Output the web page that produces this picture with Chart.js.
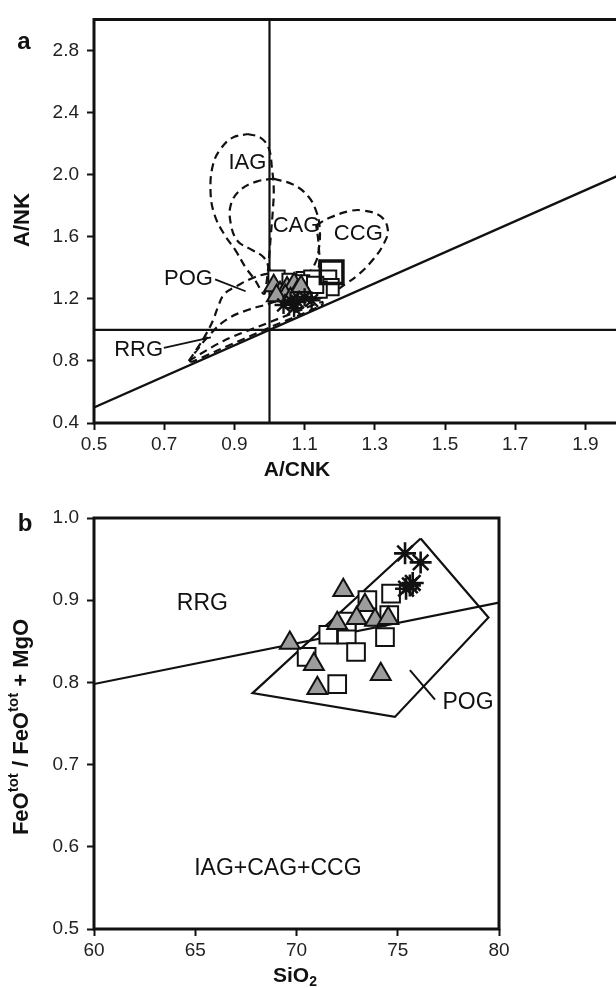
<!DOCTYPE html>
<html>
<head>
<meta charset="utf-8">
<script src="https://cdn.jsdelivr.net/npm/chart.js@4.4.1/dist/chart.umd.min.js"></script>
<style>
  html, body { margin: 0; padding: 0; background: #fff; overflow: hidden; width: 616px; height: 988px; }
  #chartA { position: absolute; left: 0; top: 0; }
  #chartB { position: absolute; left: 0; top: 494px; }
</style>
</head>
<body>
<canvas id="chartA" width="640" height="494"></canvas>
<canvas id="chartB" width="616" height="494"></canvas>
<script>
// ---------- (a) A/CNK vs A/NK ----------
const aTicksX = [0.5, 0.7, 0.9, 1.1, 1.3, 1.5, 1.7, 1.9];
const aTicksY = [0.4, 0.8, 1.2, 1.6, 2.0, 2.4, 2.8];

const aTriangleACNK = [1.012, 1.03, 1.05, 1.07, 1.045, 1.08, 1.10, 1.06, 1.02, 1.09];
const aTriangleANK  = [1.285, 1.24, 1.27, 1.295, 1.22, 1.25, 1.23, 1.20, 1.22, 1.28];
const aSquareACNK   = [1.02, 1.06, 1.10, 1.122, 1.167, 1.174, 1.14, 1.09, 1.13];
const aSquareANK    = [1.33, 1.31, 1.32, 1.33, 1.33, 1.275, 1.26, 1.30, 1.29];
const aBigSquareACNK = [1.177];
const aBigSquareANK  = [1.371];
const aStarACNK     = [1.04, 1.06, 1.08, 1.10, 1.07, 1.12];
const aStarANK      = [1.16, 1.19, 1.18, 1.21, 1.14, 1.19];

// reference lines: A/CNK = 1, A/NK = 1, A/NK = A/CNK
const acnkOneLine = [[1.0, 0.4], [1.0, 3.0]];
const ankOneLine  = [[0.5, 1.0], [2.0, 1.0]];
const equalLine   = [[0.5, 0.5], [2.0, 2.0]];

// granite-type fields (dashed outlines)
const iagOutline = [[0.937,2.262],[0.974,2.239],[0.998,2.170],[1.007,2.042],[1.012,1.914],[1.010,1.786],
  [1.004,1.616],[0.998,1.445],[0.991,1.296],[0.984,1.232],[0.960,1.317],[0.932,1.402],[0.904,1.509],
  [0.871,1.616],[0.843,1.744],[0.832,1.893],[0.839,2.064],[0.862,2.170],[0.895,2.239],[0.937,2.262]];
const cagOutline = [[1.012,1.974],[1.068,1.936],[1.110,1.861],[1.133,1.765],[1.143,1.658],[1.141,1.530],
  [1.129,1.424],[1.096,1.338],[1.049,1.296],[1.012,1.338],[0.984,1.466],[0.946,1.520],[0.909,1.573],
  [0.890,1.680],[0.890,1.808],[0.918,1.904],[0.965,1.957],[1.012,1.974]];
const ccgOutline = [[1.133,1.674],[1.171,1.722],[1.227,1.765],[1.264,1.770],[1.316,1.733],[1.337,1.648],
  [1.325,1.552],[1.292,1.445],[1.255,1.360],[1.217,1.296],[1.180,1.242],[1.133,1.200],[1.100,1.210],
  [1.120,1.300],[1.140,1.400],[1.140,1.550],[1.133,1.674]];
const pogOutline = [[0.770,0.800],[0.797,0.890],[0.820,0.976],[0.839,1.061],[0.853,1.146],[0.871,1.230],
  [0.909,1.285],[0.956,1.338],[1.002,1.364],[1.040,1.360],[1.068,1.300],[1.050,1.220],[1.000,1.170],
  [0.940,1.130],[0.880,1.070],[0.830,0.970],[0.790,0.860],[0.770,0.800]];
const rrgOutline = [[0.770,0.800],[0.870,0.930],[0.990,1.040],[1.080,1.120],[1.150,1.180],[1.150,1.160],
  [1.000,1.015],[0.850,0.865],[0.780,0.795],[0.770,0.800]];

const pogLeaderA = [[0.845,1.325],[0.932,1.249]];
const rrgLeaderA = [[0.699,0.884],[0.833,0.952]];

// ---------- (b) SiO2 vs FeOtot/(FeOtot+MgO) ----------
const bTicksX = [60, 65, 70, 75, 80];
const bTicksY = [0.5, 0.6, 0.7, 0.8, 0.9, 1.0];

const bTriangleSiO2  = [72.31, 73.38, 72.01, 72.97, 73.88, 74.53, 69.67, 70.86, 71.03, 74.16];
const bTriangleRatio = [0.912, 0.894, 0.872, 0.878, 0.876, 0.878, 0.848, 0.822, 0.793, 0.810];
const bSquareSiO2    = [74.67, 73.50, 74.58, 71.57, 72.48, 74.37, 72.94, 70.50, 72.01, 72.48];
const bSquareRatio   = [0.908, 0.900, 0.882, 0.858, 0.858, 0.855, 0.837, 0.831, 0.798, 0.874];
const bStarSiO2      = [75.36, 76.13, 75.74, 75.41, 75.60];
const bStarRatio     = [0.957, 0.946, 0.921, 0.914, 0.918];

const rrgBoundary = [[60, 0.798], [80, 0.897]];
const pogField    = [[76.13,0.975],[79.48,0.879],[74.86,0.758],[67.83,0.787],[76.13,0.975]];
const pogLeaderB  = [[75.6,0.815],[76.84,0.779]];

// ---------- shared helpers ----------
const INK = '#111';
const FAMILY = '"Liberation Sans", Arial, Helvetica, sans-serif';
const zip = (xs, ys) => xs.map((x, i) => ({ x, y: ys[i] }));
const pts = (pairs) => pairs.map(([x, y]) => ({ x, y }));

function lineSet(pairs, opts) {
  return Object.assign({
    data: pts(pairs), showLine: true, pointRadius: 0, borderColor: INK,
    borderWidth: 2, tension: 0, fill: false, order: 10
  }, opts || {});
}
function markerSet(data, style, opts) {
  return Object.assign({
    data, showLine: false, pointStyle: style, borderColor: INK, borderWidth: 2,
    pointHoverRadius: 0, order: 1
  }, opts || {});
}

// draws a run of text pieces (with super/subscripts) centred on (x, y), optionally rotated
function drawRich(ctx, t) {
  ctx.save();
  ctx.translate(t.x, t.y);
  if (t.rotate) ctx.rotate(t.rotate);
  const fontOf = (p) => `bold ${p.sup || p.sub ? t.small : t.size}px ${FAMILY}`;
  let total = 0;
  t.parts.forEach(p => { ctx.font = fontOf(p); total += ctx.measureText(p.text).width; });
  let cx = -total / 2;
  ctx.textAlign = 'left';
  ctx.textBaseline = 'middle';
  ctx.fillStyle = INK;
  t.parts.forEach(p => {
    ctx.font = fontOf(p);
    const dy = p.sup ? -t.size * 0.38 : (p.sub ? t.size * 0.3 : 0);
    ctx.fillText(p.text, cx, dy);
    cx += ctx.measureText(p.text).width;
  });
  ctx.restore();
}

const chartFrame = {
  id: 'chartFrame',
  afterDraw(chart, args, o) {
    const { ctx, chartArea: a, scales: { x, y } } = chart;
    ctx.save();
    ctx.strokeStyle = INK;
    ctx.lineWidth = 3;
    ctx.strokeRect(a.left, a.top, a.right - a.left, a.bottom - a.top);
    ctx.fillStyle = INK;
    ctx.textAlign = 'center';
    ctx.textBaseline = 'middle';
    (o.notes || []).forEach(n => {
      ctx.font = `${n.size}px ${FAMILY}`;
      ctx.fillText(n.text, x.getPixelForValue(n.x), y.getPixelForValue(n.y));
    });
    (o.texts || []).forEach(t => drawRich(ctx, t));
    ctx.restore();
  }
};

function axis(min, max, ticks, decimals, fixed) {
  return {
    type: 'linear', min, max,
    afterBuildTicks(s) { s.ticks = ticks.map(v => ({ value: v })); },
    afterFit(s) {
      if (fixed.width !== undefined) s.width = fixed.width;
      if (fixed.height !== undefined) s.height = fixed.height;
      s.paddingTop = 0; s.paddingBottom = 0; s.paddingLeft = 0; s.paddingRight = 0;
    },
    grid: { display: true, drawOnChartArea: false, drawTicks: true, tickLength: 7, tickWidth: 2, tickColor: INK },
    border: { display: false },
    ticks: {
      callback: (v) => Number(v).toFixed(decimals),
      font: { family: FAMILY, size: 19 }, color: '#222',
      padding: fixed.pad, maxRotation: 0, autoSkip: false
    },
    title: { display: false }
  };
}

const common = {
  responsive: false, animation: false, devicePixelRatio: 1,
  plugins: { legend: { display: false }, tooltip: { enabled: false } },
  events: []
};

// ---------- chart (a) ----------
new Chart(document.getElementById('chartA'), {
  type: 'scatter',
  data: {
    datasets: [
      markerSet(zip(aBigSquareACNK, aBigSquareANK), 'rect', { pointRadius: 16, borderWidth: 3.5, backgroundColor: 'rgba(255,255,255,0)', order: 0 }),
      markerSet(zip(aStarACNK, aStarANK), 'star', { pointRadius: 9, borderWidth: 2.4, backgroundColor: INK, order: 1 }),
      markerSet(zip(aTriangleACNK, aTriangleANK), 'triangle', { pointRadius: 11, backgroundColor: '#9c9c9c', order: 2 }),
      markerSet(zip(aSquareACNK, aSquareANK), 'rect', { pointRadius: 11.5, backgroundColor: '#ffffff', order: 3 }),
      lineSet(acnkOneLine, { borderWidth: 2.2 }),
      lineSet(ankOneLine, { borderWidth: 2.2 }),
      lineSet(equalLine, { borderWidth: 2.4 }),
      lineSet(iagOutline, { borderDash: [8, 5], tension: 0.4, borderWidth: 2.2 }),
      lineSet(cagOutline, { borderDash: [8, 5], tension: 0.4, borderWidth: 2.2 }),
      lineSet(ccgOutline, { borderDash: [8, 5], tension: 0.4, borderWidth: 2.2 }),
      lineSet(pogOutline, { borderDash: [8, 5], tension: 0.4, borderWidth: 2.2 }),
      lineSet(rrgOutline, { borderDash: [8, 5], tension: 0.3, borderWidth: 2.2 }),
      lineSet(pogLeaderA, { borderWidth: 1.8 }),
      lineSet(rrgLeaderA, { borderWidth: 1.8 })
    ]
  },
  options: Object.assign({}, common, {
    layout: { padding: { top: 17, right: 12, left: 0, bottom: 0 } },
    scales: {
      x: axis(0.5, 2.0, aTicksX, 1, { height: 71, pad: 3 }),
      y: axis(0.4, 3.0, aTicksY, 1, { width: 94, pad: 8 })
    },
    plugins: Object.assign({}, common.plugins, {
      chartFrame: {
        notes: [
          { text: 'IAG', x: 0.937, y: 2.074, size: 22 },
          { text: 'CAG', x: 1.077, y: 1.669, size: 22 },
          { text: 'CCG', x: 1.253, y: 1.616, size: 22 },
          { text: 'POG', x: 0.769, y: 1.328, size: 22 },
          { text: 'RRG', x: 0.627, y: 0.869, size: 22 }
        ],
        texts: [
          { parts: [{ text: 'a' }], x: 24, y: 42, size: 24, small: 16 },
          { parts: [{ text: 'A/NK' }], x: 23, y: 220, rotate: -Math.PI / 2, size: 22, small: 14 },
          { parts: [{ text: 'A/CNK' }], x: 297, y: 470, size: 21, small: 14 }
        ]
      }
    })
  }),
  plugins: [chartFrame]
});

// ---------- chart (b) ----------
new Chart(document.getElementById('chartB'), {
  type: 'scatter',
  data: {
    datasets: [
      markerSet(zip(bStarSiO2, bStarRatio), 'star', { pointRadius: 11, borderWidth: 2.6, backgroundColor: INK, order: 1 }),
      markerSet(zip(bTriangleSiO2, bTriangleRatio), 'triangle', { pointRadius: 11.5, backgroundColor: '#9c9c9c', order: 2 }),
      markerSet(zip(bSquareSiO2, bSquareRatio), 'rect', { pointRadius: 12.5, backgroundColor: '#ffffff', order: 3 }),
      lineSet(rrgBoundary, { borderWidth: 2.2 }),
      lineSet(pogField, { borderWidth: 2.2 }),
      lineSet(pogLeaderB, { borderWidth: 2 })
    ]
  },
  options: Object.assign({}, common, {
    layout: { padding: { top: 24, right: 117, left: 0, bottom: 0 } },
    scales: {
      x: axis(60, 80, bTicksX, 0, { height: 59, pad: 3 }),
      y: axis(0.5, 1.0, bTicksY, 1, { width: 94, pad: 8 })
    },
    plugins: Object.assign({}, common.plugins, {
      chartFrame: {
        notes: [
          { text: 'RRG', x: 65.35, y: 0.896, size: 23 },
          { text: 'IAG+CAG+CCG', x: 69.08, y: 0.574, size: 23 },
          { text: 'POG', x: 78.47, y: 0.775, size: 23 }
        ],
        texts: [
          { parts: [{ text: 'b' }], x: 25, y: 30, size: 24, small: 16 },
          { parts: [{ text: 'FeO' }, { text: 'tot', sup: true }, { text: ' / FeO' }, { text: 'tot', sup: true }, { text: ' + MgO' }],
            x: 22, y: 233, rotate: -Math.PI / 2, size: 22, small: 15 },
          { parts: [{ text: 'SiO' }, { text: '2', sub: true }], x: 295, y: 482, size: 21, small: 14 }
        ]
      }
    })
  }),
  plugins: [chartFrame]
});
</script>
</body>
</html>
